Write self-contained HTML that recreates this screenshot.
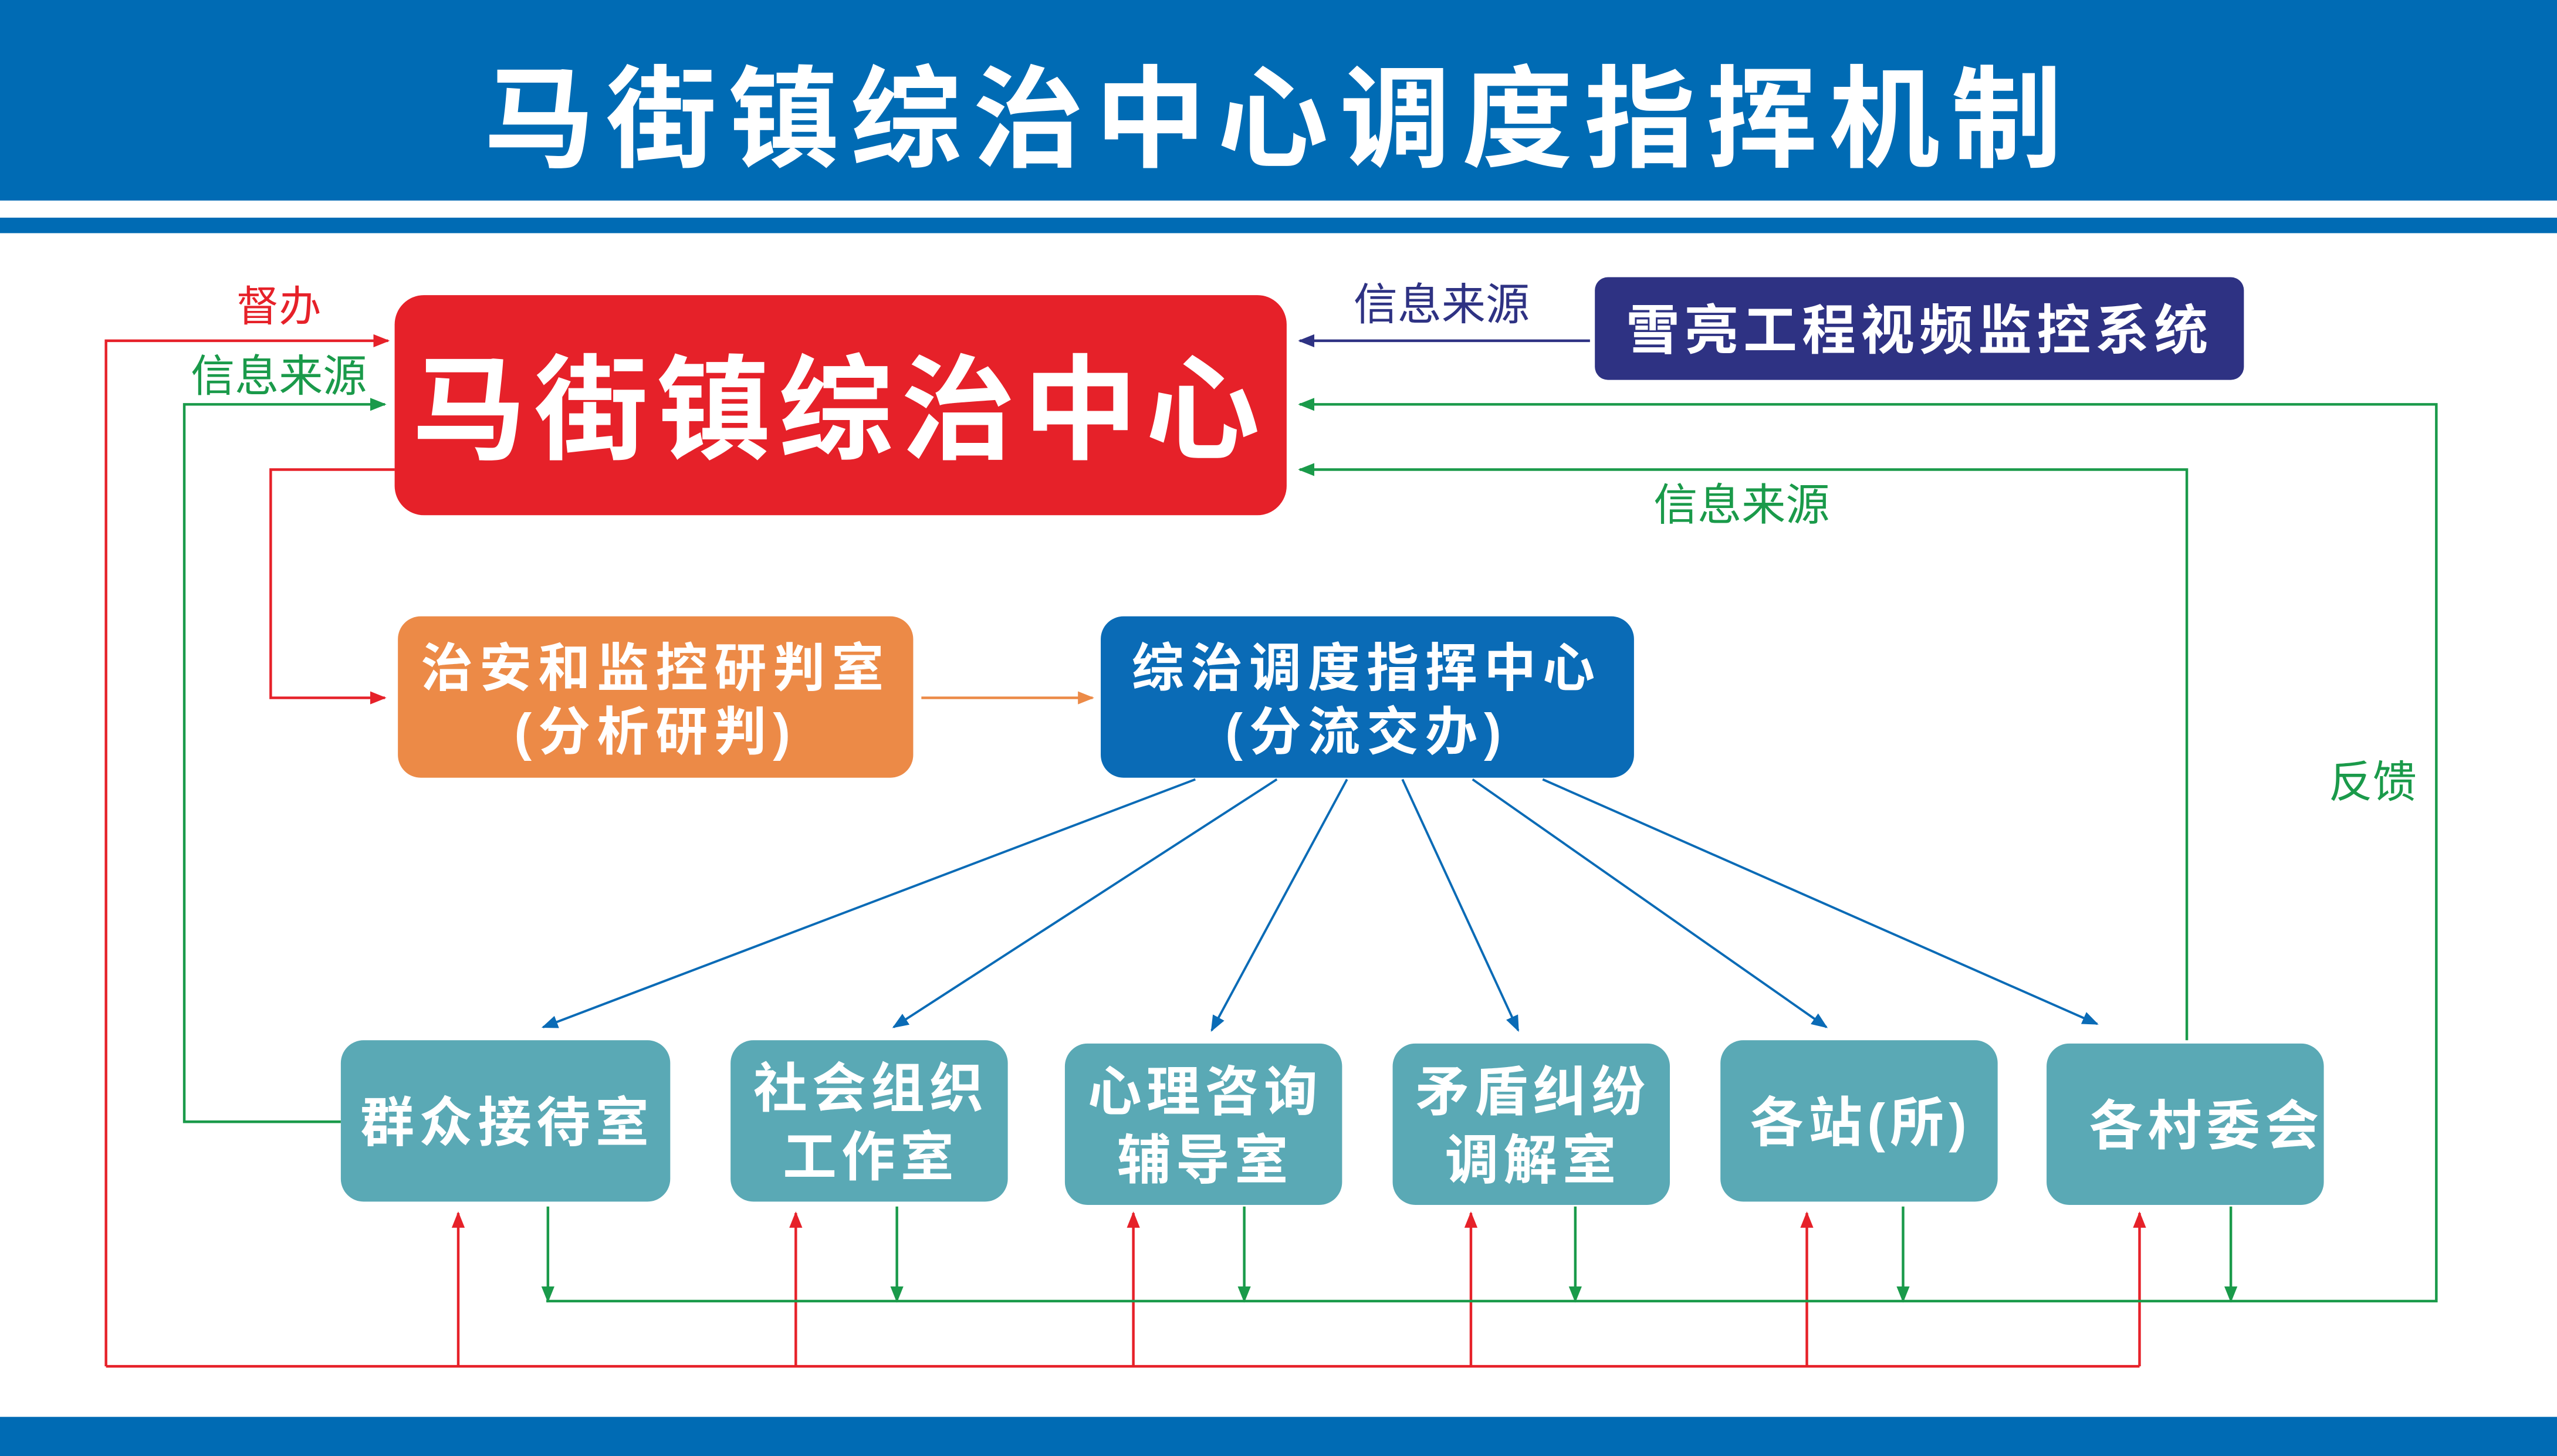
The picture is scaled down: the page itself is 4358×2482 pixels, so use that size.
<!DOCTYPE html>
<html><head><meta charset="utf-8"><style>
html,body{margin:0;padding:0;background:#fff;}
svg{display:block;}
text{font-family:"Liberation Sans","Noto Sans CJK SC","WenQuanYi Zen Hei",sans-serif;}
</style></head><body>
<svg width="4358" height="2482" viewBox="0 0 1568 893" preserveAspectRatio="none" xmlns="http://www.w3.org/2000/svg">
<defs>
<marker id="ar" markerWidth="10" markerHeight="8" refX="9" refY="4" orient="auto" markerUnits="userSpaceOnUse"><path d="M0,0 L10,4 L0,8 z" fill="#e62129"/></marker>
<marker id="ag" markerWidth="10" markerHeight="8" refX="9" refY="4" orient="auto" markerUnits="userSpaceOnUse"><path d="M0,0 L10,4 L0,8 z" fill="#1a9a4a"/></marker>
<marker id="an" markerWidth="10" markerHeight="8" refX="9" refY="4" orient="auto" markerUnits="userSpaceOnUse"><path d="M0,0 L10,4 L0,8 z" fill="#2e3283"/></marker>
<marker id="ao" markerWidth="10" markerHeight="8" refX="9" refY="4" orient="auto" markerUnits="userSpaceOnUse"><path d="M0,0 L10,4 L0,8 z" fill="#ec8a47"/></marker>
<marker id="ab" markerWidth="10" markerHeight="8" refX="9" refY="4" orient="auto" markerUnits="userSpaceOnUse"><path d="M0,0 L10,4 L0,8 z" fill="#0a6bb6"/></marker>
</defs>
<rect x="0" y="0" width="1568" height="123" fill="#006bb4"/>
<rect x="0" y="133.5" width="1568" height="9.5" fill="#006bb4"/>
<rect x="0" y="869" width="1568" height="24" fill="#006bb4"/>
<text x="784" y="97" fill="#fff" font-size="68" font-weight="bold" text-anchor="middle" letter-spacing="7">马街镇综治中心调度指挥机制</text>

<g fill="none" stroke-width="1.6">
<polyline points="65,838 65,209 238,209" stroke="#e62129" marker-end="url(#ar)"/>
<polyline points="65,838 1312,838" stroke="#e62129"/>
<g stroke="#e62129">
<line x1="281" y1="838" x2="281" y2="744" marker-end="url(#ar)"/>
<line x1="488" y1="838" x2="488" y2="744" marker-end="url(#ar)"/>
<line x1="695" y1="838" x2="695" y2="744" marker-end="url(#ar)"/>
<line x1="902" y1="838" x2="902" y2="744" marker-end="url(#ar)"/>
<line x1="1108" y1="838" x2="1108" y2="744" marker-end="url(#ar)"/>
<line x1="1312" y1="838" x2="1312" y2="744" marker-end="url(#ar)"/>
</g>
<polyline points="242,288 166,288 166,428 236,428" stroke="#e62129" marker-end="url(#ar)"/>
<polyline points="209,688 113,688 113,248 236,248" stroke="#1a9a4a" marker-end="url(#ag)"/>
<polyline points="335,798 1494,798 1494,248 797,248" stroke="#1a9a4a" marker-end="url(#ag)"/>
<polyline points="1341,638 1341,288 797,288" stroke="#1a9a4a" marker-end="url(#ag)"/>
<g stroke="#1a9a4a">
<line x1="336" y1="740" x2="336" y2="798" marker-end="url(#ag)"/>
<line x1="550" y1="740" x2="550" y2="798" marker-end="url(#ag)"/>
<line x1="763" y1="740" x2="763" y2="798" marker-end="url(#ag)"/>
<line x1="966" y1="740" x2="966" y2="798" marker-end="url(#ag)"/>
<line x1="1167" y1="740" x2="1167" y2="798" marker-end="url(#ag)"/>
<line x1="1368" y1="740" x2="1368" y2="798" marker-end="url(#ag)"/>
</g>
<line x1="975" y1="209" x2="797" y2="209" stroke="#2e3283" marker-end="url(#an)"/>
<line x1="565" y1="428" x2="670" y2="428" stroke="#ec8a47" marker-end="url(#ao)"/>
<g stroke="#0a6bb6" stroke-width="1.4">
<line x1="733" y1="478" x2="333" y2="630" marker-end="url(#ab)"/>
<line x1="783" y1="478" x2="548" y2="630" marker-end="url(#ab)"/>
<line x1="826" y1="478" x2="743" y2="632" marker-end="url(#ab)"/>
<line x1="860" y1="478" x2="931" y2="632" marker-end="url(#ab)"/>
<line x1="903" y1="478" x2="1120" y2="630" marker-end="url(#ab)"/>
<line x1="946" y1="478" x2="1286" y2="628" marker-end="url(#ab)"/>
</g>
</g>

<text x="171" y="197" fill="#e62129" font-size="26" text-anchor="middle">督办</text>
<text x="171" y="240" fill="#1a9a4a" font-size="27" text-anchor="middle">信息来源</text>
<text x="884" y="196" fill="#2e3283" font-size="27" text-anchor="middle">信息来源</text>
<text x="1068" y="319" fill="#1a9a4a" font-size="27" text-anchor="middle">信息来源</text>
<text x="1455" y="489" fill="#1a9a4a" font-size="27" text-anchor="middle">反馈</text>

<rect x="242" y="181" width="547" height="135" rx="18" fill="#e62129"/>
<text x="515" y="276" fill="#fff" font-size="70" font-weight="bold" text-anchor="middle" letter-spacing="5">马街镇综治中心</text>
<rect x="978" y="170" width="398" height="63" rx="8" fill="#2e3283"/>
<text x="1177" y="214" fill="#fff" font-size="33" font-weight="bold" text-anchor="middle" letter-spacing="3">雪亮工程视频监控系统</text>

<rect x="244" y="378" width="316" height="99" rx="14" fill="#ec8a47"/>
<text x="402" y="421" fill="#fff" font-size="32" font-weight="bold" text-anchor="middle" letter-spacing="4">治安和监控研判室</text>
<text x="402" y="460" fill="#fff" font-size="32" font-weight="bold" text-anchor="middle" letter-spacing="4">(分析研判)</text>
<rect x="675" y="378" width="327" height="99" rx="14" fill="#0a6bb6"/>
<text x="838" y="421" fill="#fff" font-size="32" font-weight="bold" text-anchor="middle" letter-spacing="4">综治调度指挥中心</text>
<text x="838" y="460" fill="#fff" font-size="32" font-weight="bold" text-anchor="middle" letter-spacing="4">(分流交办)</text>

<g fill="#5aa9b5">
<rect x="209" y="638" width="202" height="99" rx="14"/>
<rect x="448" y="638" width="170" height="99" rx="14"/>
<rect x="653" y="640" width="170" height="99" rx="14"/>
<rect x="854" y="640" width="170" height="99" rx="14"/>
<rect x="1055" y="638" width="170" height="99" rx="14"/>
<rect x="1255" y="640" width="170" height="99" rx="14"/>
</g>
<g fill="#fff" font-size="33" font-weight="bold" text-anchor="middle" letter-spacing="3">
<text x="311" y="700">群众接待室</text>
<text x="534" y="679">社会组织</text>
<text x="534" y="721">工作室</text>
<text x="739" y="681">心理咨询</text>
<text x="739" y="723">辅导室</text>
<text x="940" y="681">矛盾纠纷</text>
<text x="940" y="723">调解室</text>
<text x="1141" y="700">各站(所)</text>
<text x="1353" y="702">各村委会</text>
</g>
</svg>
</body></html>
